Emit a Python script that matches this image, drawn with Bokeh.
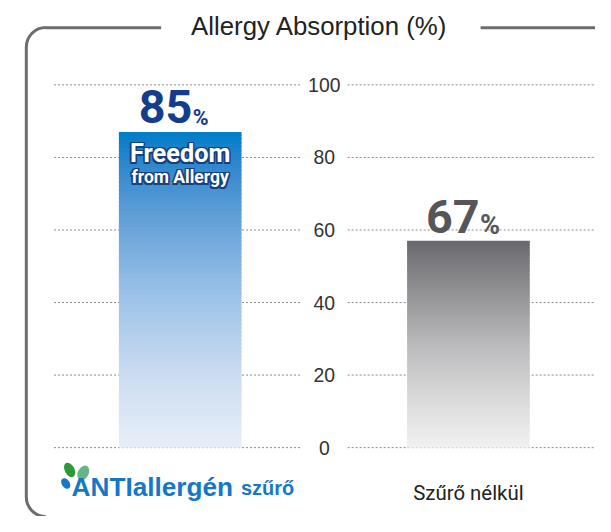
from bokeh.plotting import figure
from bokeh.models import Range1d
from bokeh.embed import file_html
from bokeh.resources import INLINE
from bokeh.core.properties import value
import math

# ---- data ----
categories = ["ANTIallergén szűrő", "Szűrő nélkül"]
logo_main = "ANTIallergén"
logo_sub = "szűrő"
bar_heights = [87, 57]          # bar tops as drawn in the picture
value_labels = ["85", "67"]     # printed values
yticks = [0, 20, 40, 60, 80, 100]
title = "Allergy Absorption (%)"
bar_caption = ["Freedom", "from Allergy"]

# ---- layout helpers (reference-pixel based, canvas scaled to fit) ----
W, H = 595, 516
S = 0.972  # canvas / reference pixel ratio
PXY = 3.74  # reference pixels per y unit


def X(px):
    return 1 + (px - 184.5) / 296.0


def Y(py):
    return (461 - py) / PXY


def fs(px):
    return "%.1fpx" % (px * S)


COND = value("Roboto")
SANS = value("Liberation Sans")

p = figure(width=W, height=H,
           x_range=Range1d(X(0), X(611)),
           y_range=Range1d(Y(532), Y(0)),
           output_backend="svg", toolbar_location=None, min_border=0,
           x_axis_location=None, y_axis_location=None)
p.grid.visible = False
p.outline_line_color = None
p.background_fill_color = "white"
p.border_fill_color = "white"

xs = [i + 1 for i in range(len(categories))]
axis_x = (xs[0] + xs[1]) / 2
bar_w = 0.425
gap = 0.081

# ---- dotted grid ----
n = len(yticks)
p.segment(x0=[X(55)] * n, y0=yticks, x1=[axis_x - gap] * n, y1=yticks,
          line_color="#8a8a8a", line_width=1, line_dash="2 2")
p.segment(x0=[axis_x + gap] * n, y0=yticks, x1=[X(611)] * n, y1=yticks,
          line_color="#8a8a8a", line_width=1, line_dash="2 2")
p.text(x=[axis_x] * n, y=yticks, text=[str(t) for t in yticks],
       text_align="center", text_baseline="middle", text_font=SANS,
       text_font_size=fs(20), text_color="#333333")

# ---- gradient bars ----
blue_stops = [(0.0, (232, 239, 249)), (0.25, (200, 218, 240)), (0.5, (152, 192, 231)),
              (0.75, (92, 156, 214)), (0.9, (45, 135, 205)), (1.0, (0, 125, 200))]
gray_stops = [(0.0, (241, 241, 241)), (0.25, (216, 216, 217)), (0.5, (186, 186, 188)),
              (0.75, (146, 146, 149)), (1.0, (105, 104, 110))]


def col(stops, t):
    for (t0, c0), (t1, c1) in zip(stops[:-1], stops[1:]):
        if t0 <= t <= t1:
            f = (t - t0) / (t1 - t0)
            return "#%02x%02x%02x" % tuple(int(round(a + (b - a) * f)) for a, b in zip(c0, c1))
    return "#%02x%02x%02x" % stops[-1][1]


N = 80
for x, h, stops in zip(xs, bar_heights, [blue_stops, gray_stops]):
    bottoms = [h * k / N for k in range(N)]
    tops = [min(h, h * (k + 1.6) / N) for k in range(N)]
    colors = [col(stops, (k + 0.5) / N) for k in range(N)]
    p.quad(left=x - bar_w / 2, right=x + bar_w / 2, bottom=bottoms, top=tops,
           fill_color=colors, line_color=None)

# ---- value labels (positions are pixel gaps above the bar tops) ----
val_colors = ["#133d8d", "#56565a"]
num_gap = [26.5, 25.5]
pct_gap = [14.5, 16.5]
pct_size = [22, 28]
num_right = [12.5, 11.5]
for x, h, lab, c, ng, pg, ps, nr in zip(xs, bar_heights, value_labels, val_colors,
                                         num_gap, pct_gap, pct_size, num_right):
    p.text(x=[x + nr / 296.0], y=[h + ng / PXY], text=[lab], text_align="right",
           text_baseline="middle", text_font=COND, text_font_style="bold",
           text_font_size=fs(48), text_color=c)
    p.text(x=[x + (nr + 0.5) / 296.0], y=[h + pg / PXY], text=["%"], text_align="left",
           text_baseline="middle", text_font=COND, text_font_style="bold",
           text_font_size=fs(ps), text_color=c)

# caption inside blue bar: dark-blue halo then white text
cap_gap = [-22.5, -46.5]
cap_size = [26, 18]
halo = [(dx, dy) for dx in (-1.4, 0, 1.4) for dy in (-1.4, 0, 1.4) if (dx, dy) != (0, 0)]
for txt, g, sz in zip(bar_caption, cap_gap, cap_size):
    yy = bar_heights[0] + g / PXY
    for dx, dy in halo:
        p.text(x=[xs[0]], y=[yy], text=[txt], text_align="center", text_baseline="middle",
               x_offset=dx, y_offset=dy, text_font=COND, text_font_style="bold",
               text_font_size=fs(sz), text_color="#173f7c")
    p.text(x=[xs[0]], y=[yy], text=[txt], text_align="center", text_baseline="middle",
           text_font=COND, text_font_style="bold", text_font_size=fs(sz), text_color="white")

# ---- title & frame ----
p.text(x=[X(327.5)], y=[Y(26)], text=[title], text_align="center", text_baseline="middle",
       text_font=SANS, text_font_size=fs(26.5), text_color="#222222")
FR = "#6c6c6c"
p.segment(x0=[X(46), X(493)], y0=[Y(28), Y(28)], x1=[X(165), X(611)], y1=[Y(28), Y(28)],
          line_color=FR, line_width=3)
p.segment(x0=[X(26.5)], y0=[Y(48)], x1=[X(26.5)], y1=[Y(512)], line_color=FR, line_width=3)
p.arc(x=[X(46.5)], y=[Y(48)], radius=20 * S, radius_units="screen",
      start_angle=math.pi / 2, end_angle=math.pi, line_color=FR, line_width=3)
p.arc(x=[X(46.5)], y=[Y(512)], radius=20 * S, radius_units="screen",
      start_angle=math.pi, end_angle=1.5 * math.pi, line_color=FR, line_width=3)

# ---- category labels ----
p.ellipse(x=[X(71)], y=[Y(484)], width=10 * S, height=16 * S, angle=0.5, width_units="screen",
          height_units="screen", fill_color="#2e9a35", line_color=None)
p.ellipse(x=[X(85)], y=[Y(487)], width=11 * S, height=16 * S, angle=-0.5, width_units="screen",
          height_units="screen", fill_color="#66b487", line_color=None)
p.ellipse(x=[X(67)], y=[Y(498)], width=8 * S, height=12 * S, angle=0.6, width_units="screen",
          height_units="screen", fill_color="#1478c8", line_color=None)
p.text(x=[X(73)], y=[Y(502)], text=[logo_main], text_align="left", text_baseline="middle",
       text_font=SANS, text_font_style="bold", text_font_size=fs(27), text_color="#1677c7")
p.text(x=[X(247)], y=[Y(503)], text=[logo_sub], text_align="left", text_baseline="middle",
       text_font=SANS, text_font_style="bold", text_font_size=fs(20.5), text_color="#1677c7")
p.text(x=[xs[1]], y=[Y(508)], text=[categories[1]], text_align="center", text_baseline="middle",
       text_font=COND, text_font_size=fs(21), text_color="#222222")

open("out.html", "w").write(file_html(p, INLINE))
